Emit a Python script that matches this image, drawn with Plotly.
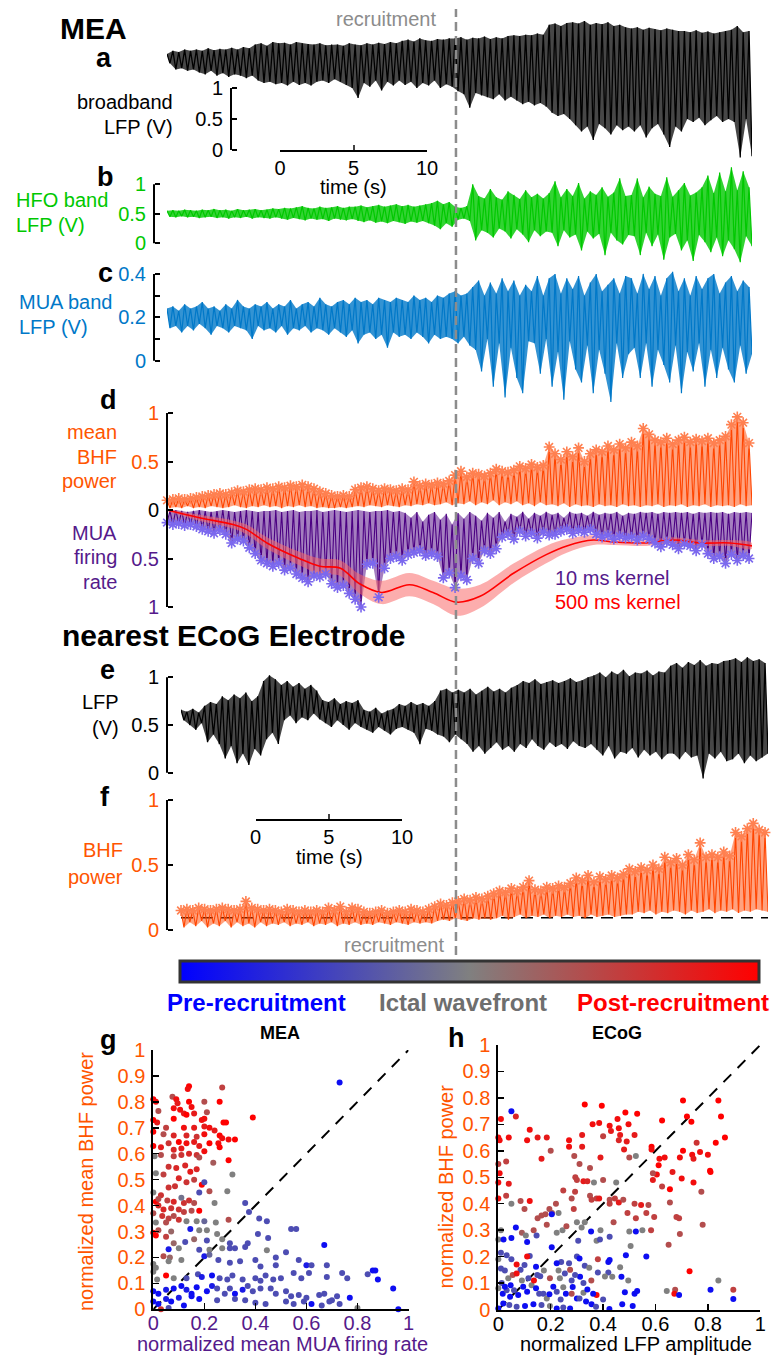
import numpy as np
import plotly.graph_objects as go

W, H = 772, 1355
FONT = "Liberation Sans, Arial, Helvetica, sans-serif"

ORANGE_TXT = "#FF5500"
ORANGE_LINE = "#FF4500"
CORAL = "#FF8050"
PURPLE_TXT = "#551A8B"
PURPLE_LINE = "#4B0082"
LAVENDER = "#7B68EE"
GREEN = "#00C800"
BLUE = "#0078C8"
REC_GRAY = "#8C8C8C"

# ======================= DATA =======================
mea_duration_s = 39.8
ecog_duration_s = 40.0
recruitment_time_s = 19.66
ecog_bhf_threshold = 0.095

# (a) broadband LFP, MEA  (successive peaks / troughs, V)
a_peaks = [1.55,1.60,1.58,1.62,1.60,
           1.62,1.60,1.64,1.61,1.63,1.62,1.65,1.62,1.66,1.64,
           1.70,1.72,1.68,1.74,1.72,1.73,1.70,1.74,1.72,1.71,1.70,1.72,1.69,1.70,
           1.70,1.68,1.72,1.70,1.69,1.72,1.70,1.73,1.71,1.74,1.72,
           1.76,1.78,1.75,1.80,1.77,1.76,1.79,1.78,1.80,
           1.80,1.82,1.78,1.81,1.80,1.83,1.79,1.82,1.80,1.84,
           1.85,1.84,1.86,1.85,1.88,1.86,
           2.02,2.04,2.00,2.05,
           2.06,2.04,2.08,2.02,2.05,2.03,2.06,2.00,2.02,1.98,
           1.96,1.98,1.94,1.97,1.95,1.93,1.96,1.94,1.92,
           1.92,1.90,1.93,1.89,1.91,1.88,1.90,1.92,
           1.94,2.00,1.90,1.92]
a_troughs = [1.40,1.30,1.32,1.28,1.30,
             1.25,1.22,1.28,1.20,1.24,1.18,1.22,1.20,1.16,1.20,
             1.12,1.08,1.10,1.06,1.08,1.04,1.10,1.05,1.08,1.04,1.10,1.12,1.08,1.14,
             1.10,1.05,1.00,0.84,1.08,1.02,1.12,0.96,1.10,1.04,1.12,
             1.05,1.10,1.00,1.08,1.04,1.12,1.00,1.06,1.02,
             0.95,0.90,0.68,0.92,0.88,0.85,0.82,0.90,0.80,0.86,
             0.80,0.74,0.78,0.72,0.76,0.70,
             0.60,0.55,0.58,0.50,
             0.40,0.30,0.38,0.16,0.42,0.35,0.25,0.40,0.32,0.38,
             0.30,0.40,0.20,0.35,0.42,0.25,0.05,0.38,0.30,
             0.50,0.45,0.52,0.40,0.48,0.55,0.45,0.50,
             0.45,-0.12,0.50,-0.10]

# (b) HFO band LFP
b_peaks = [0.55,0.56,0.55,0.57,0.56,0.55,0.57,0.56,0.58,0.56,0.57,0.55,0.58,0.56,0.57,0.58,0.56,0.57,0.59,
           0.58,0.60,0.59,0.61,0.63,0.60,0.59,0.62,0.60,0.61,0.63,0.60,0.62,
           0.62,0.64,0.61,0.63,0.65,0.62,0.64,0.66,0.63,0.65,0.62,0.64,0.66,
           0.68,0.72,0.66,0.70,
           0.62,0.60,0.63,
           1.00,0.80,0.76,0.92,0.78,0.74,0.88,0.82,0.75,0.90,0.78,0.84,0.76,
           0.85,1.05,0.78,0.92,0.80,1.02,0.76,0.88,0.82,0.95,0.79,0.86,1.10,0.80,
           0.82,1.10,0.78,0.96,0.84,0.80,1.12,0.79,0.90,1.02,0.81,0.86,0.95,
           1.15,0.85,1.20,0.88,1.29,0.90,1.22,0.95]
b_troughs = [0.45,0.44,0.46,0.44,0.45,0.43,0.44,0.45,0.43,0.44,0.42,0.44,0.43,0.45,0.42,0.44,0.43,0.42,0.44,
             0.42,0.40,0.43,0.41,0.39,0.42,0.40,0.41,0.38,0.42,0.40,0.39,0.41,
             0.38,0.36,0.39,0.35,0.37,0.34,0.38,0.36,0.33,0.37,0.35,0.38,0.34,
             0.30,0.24,0.34,0.28,
             0.40,0.42,0.38,
             0.05,0.22,0.18,0.10,0.25,0.20,0.08,0.24,0.15,0.02,0.22,0.12,0.20,
             0.18,-0.05,0.22,0.10,0.15,-0.12,0.20,0.08,0.16,-0.20,0.18,0.05,-0.02,0.14,
             0.12,-0.20,0.18,-0.05,0.15,-0.28,0.10,0.16,-0.12,0.05,-0.30,0.14,0.02,
             -0.15,0.10,-0.22,0.05,-0.10,-0.32,0.12,-0.05]

# (c) MUA band LFP
c_peaks = [0.24,0.25,0.23,0.26,0.24,0.25,0.27,0.24,0.25,0.23,0.26,0.24,0.28,0.25,0.24,0.26,0.25,0.27,0.24,0.26,
           0.25,0.28,0.24,0.26,0.27,0.25,0.29,0.26,0.25,
           0.27,0.28,0.26,0.29,0.27,0.28,0.26,0.29,0.28,0.27,0.29,0.28,0.27,0.30,0.28,0.29,0.27,0.30,0.29,
           0.31,0.32,0.30,0.31,
           0.34,0.37,0.30,0.36,0.31,0.38,0.32,0.37,0.30,0.35,
           0.32,0.39,0.30,0.38,0.40,0.31,0.38,0.33,0.39,0.30,0.36,0.40,0.32,0.35,0.38,0.31,0.39,
           0.38,0.31,0.40,0.33,0.39,0.30,0.38,0.41,0.32,0.38,0.30,0.39,0.33,0.38,0.40,0.31,0.36,0.39,0.32,0.37,0.34]
c_troughs = [0.15,0.16,0.13,0.16,0.14,0.17,0.15,0.12,0.16,0.15,0.13,0.16,0.15,0.14,0.10,0.16,0.14,0.15,0.13,0.16,
             0.12,0.15,0.14,0.16,0.13,0.15,0.14,0.12,0.15,
             0.13,0.11,0.14,0.08,0.12,0.13,0.10,0.12,0.06,0.13,0.11,0.12,0.10,0.13,0.11,0.08,0.12,0.10,0.11,
             0.10,0.08,0.11,0.07,
             0.05,-0.05,0.10,-0.12,0.08,-0.17,0.06,-0.08,-0.15,0.09,
             0.08,-0.06,0.10,-0.12,0.04,-0.18,0.09,-0.04,-0.10,0.07,-0.15,0.05,-0.06,-0.19,0.08,-0.08,0.03,
             0.06,-0.08,0.08,-0.12,0.05,-0.02,-0.10,0.07,-0.15,0.04,-0.05,0.08,-0.12,0.05,-0.08,0.06,-0.04,-0.10,0.07,-0.06,0.03]

# (d) mean BHF power (10 ms kernel) peaks / troughs
d_bhf_peaks = [0.10,0.11,0.12,0.11,0.12,0.13,
               0.14,0.15,0.16,0.17,0.16,0.18,
               0.20,0.19,0.21,0.22,0.21,0.23,0.22,0.24,0.23,0.25,0.24,
               0.26,0.24,0.22,0.19,0.17,
               0.15,0.14,0.15,0.14,
               0.21,0.23,0.24,0.22,
               0.20,0.22,0.21,0.20,0.22,0.21,
               0.29,0.25,0.27,0.26,0.28,0.27,0.30,
               0.36,0.40,0.34,0.38,0.37,0.35,
               0.38,0.42,0.40,0.39,0.41,
               0.45,0.43,0.47,0.44,0.46,
               0.65,0.58,
               0.52,0.60,0.55,0.64,0.50,0.58,0.62,
               0.60,0.66,0.62,0.68,0.64,0.70,0.66,
               0.84,0.78,0.72,
               0.70,0.74,0.68,0.72,0.75,0.70,0.73,0.71,0.74,0.69,0.72,0.76,
               0.88,0.96,0.90,0.69]
d_bhf_troughs = [0.02,0.03,0.02,0.04,0.02,0.03,0.02,0.04,0.03,0.02,0.03,0.05,0.03,0.02,0.04,0.03,0.05,0.03,0.04,0.02,
                 0.04,0.03,0.05,0.03,0.04,0.02,0.03,0.02,0.02,0.03,0.02,0.03,0.04,0.03,0.05,0.04,0.03,0.05,0.04,0.03,
                 0.05,0.04,0.06,0.05,0.07,0.05,0.06,0.08,0.05,0.07,0.06,0.09,0.05,0.08,0.06,0.10,0.05,0.08,0.06,0.09,
                 0.05,0.07,0.04,0.08,0.05,0.06,0.04,0.07,0.03,0.06,0.04,0.05,0.03,0.06,0.04,0.05,0.03,0.06,0.04,0.05,
                 0.03,0.05,0.04,0.06,0.03,0.05,0.04,0.06,0.03,0.05,0.04,0.06,0.03,0.05,0.04,0.05,0.03,0.06,0.04,0.05]
# (d) MUA firing rate (10 ms kernel) peaks / troughs
d_mua_peaks = [0.13,0.15,0.14,0.16,0.15,0.17,
               0.20,0.22,0.24,0.21,0.25,
               0.34,0.30,0.32,0.39,
               0.45,0.52,0.55,
               0.58,0.55,0.62,0.60,
               0.66,0.70,0.74,0.68,
               0.69,0.66,
               0.76,0.80,0.78,
               0.86,0.92,1.00,
               0.56,0.55,
               0.90,0.60,
               0.50,0.48,0.52,0.46,
               0.44,0.42,0.47,0.45,0.48,
               0.70,
               0.65,0.80,0.68,0.72,
               0.50,0.55,0.42,0.45,0.40,
               0.28,0.25,0.30,0.22,0.27,0.24,0.29,0.23,0.26,0.25,
               0.22,0.20,0.24,0.21,0.23,0.20,0.25,
               0.28,0.26,0.30,0.27,0.29,0.28,0.31,0.27,0.30,
               0.34,0.38,0.33,0.36,0.40,0.35,0.37,0.42,0.36,
               0.45,0.50,0.48,0.55,0.46,0.52,0.47,0.50]
d_mua_troughs = [0.01,0.00,0.01,0.02,0.01,0.00,0.01,0.02,0.01,0.00,0.01,0.02,0.01,0.00,0.01,0.02,0.01,0.01,0.00,0.02,
                 0.01,0.00,0.02,0.01,0.01,0.00,0.02,0.01,0.00,0.01,0.02,0.01,0.00,0.01,0.02,0.01,0.01,0.00,0.02,0.01,
                 0.03,0.08,0.02,0.12,0.05,0.02,0.10,0.04,0.15,0.03,0.09,0.02,0.06,0.11,0.03,0.08,0.02,0.12,0.04,0.07,
                 0.02,0.09,0.03,0.06,0.02,0.05,0.03,0.08,0.02,0.04,0.03,0.06,0.02,0.05,0.03,0.04,0.02,0.06,0.03,0.04,
                 0.02,0.03,0.02,0.04,0.02,0.03,0.02,0.03,0.02,0.04,0.02,0.03,0.02,0.03,0.02,0.04,0.02,0.03,0.02,0.03]
# (d) MUA firing rate, 500 ms kernel (mean and half-width of band)
kernel_t = [0, 2.2, 4.5, 5.4, 6.8, 9.0, 10.4, 11.8, 13.1, 14.6, 16.5, 18.1, 19.7, 21.3, 23.6, 25.8,
            27.2, 29.0, 30.4, 32.6, 34.4, 36.3, 38.3, 39.8]
kernel_rate = [0.0, 0.08, 0.15, 0.2, 0.34, 0.5, 0.58, 0.6, 0.76, 0.85, 0.77, 0.85, 0.95, 0.89, 0.65, 0.46,
               0.37, 0.31, 0.33, 0.34, 0.31, 0.34, 0.34, 0.37]
kernel_sem = [0.01, 0.03, 0.04, 0.05, 0.06, 0.07, 0.08, 0.08, 0.1, 0.12, 0.12, 0.12, 0.14, 0.12, 0.1, 0.09,
              0.07, 0.05, 0.03, 0.03, 0.03, 0.03, 0.03, 0.03]

# (e) ECoG LFP
e_peaks = [0.66,0.64,0.67,0.63,
           0.70,0.74,0.72,
           0.80,0.76,0.82,0.78,0.84,0.75,0.80,
           0.96,1.02,0.98,
           0.92,0.96,0.90,0.94,0.88,0.92,0.86,
           0.76,0.74,0.78,0.72,0.75,0.73,0.76,
           0.66,0.64,0.68,0.62,0.65,0.67,
           0.72,0.70,0.74,0.71,0.73,0.70,0.75,
           0.86,0.88,0.84,0.87,
           0.84,0.88,0.82,0.86,0.90,0.85,0.88,0.84,0.89,
           0.92,0.96,0.94,0.98,0.93,0.95,0.97,0.94,0.96,0.99,0.95,0.97,1.00,
           1.02,1.05,1.00,1.06,1.03,1.08,1.01,1.05,1.04,1.07,1.02,1.06,1.05,
           1.12,1.15,1.10,1.16,1.13,1.18,1.12,1.15,1.14,1.17,
           1.18,1.20,1.16,1.21,1.17,1.19,1.15]
e_troughs = [0.55,0.50,0.45,0.52,
             0.32,0.40,0.30,
             0.15,0.28,0.10,0.20,0.08,0.25,0.18,
             0.35,0.42,0.30,
             0.55,0.60,0.52,0.58,0.55,0.62,0.56,
             0.52,0.48,0.55,0.50,0.45,0.52,0.48,
             0.45,0.42,0.48,0.44,0.40,0.46,
             0.48,0.45,0.42,0.30,0.46,0.44,0.40,
             0.38,0.32,0.40,0.35,
             0.30,0.22,0.28,0.20,0.26,0.32,0.24,0.28,0.22,
             0.30,0.26,0.35,0.28,0.24,0.32,0.27,0.30,0.25,0.33,0.28,0.26,0.30,
             0.24,0.18,0.28,0.15,0.22,0.20,0.26,0.16,0.24,0.18,0.22,0.14,0.20,
             0.20,0.14,0.22,0.16,0.18,-0.06,0.20,0.15,0.22,0.12,
             0.14,0.20,0.10,0.18,0.12,0.16,0.20]

# (f) ECoG BHF power
f_peaks = [0.15,0.16,0.15,0.17,0.16,0.15,0.16,0.17,0.16,0.15,
           0.16,0.22,0.17,
           0.16,0.15,0.16,0.15,0.14,0.16,0.15,0.14,0.15,0.14,0.15,0.14,
           0.17,0.15,0.18,0.14,0.17,0.16,
           0.14,0.13,0.14,0.15,0.13,0.14,0.15,0.14,0.16,0.15,0.14,0.16,
           0.18,0.20,0.19,0.21,
           0.22,0.24,0.23,0.25,0.24,0.26,
           0.28,0.30,0.29,0.32,0.30,0.33,0.38,0.31,0.30,0.33,
           0.32,0.34,0.33,
           0.36,0.40,0.38,0.42,0.37,0.41,0.39,0.42,0.40,0.43,
           0.47,0.45,0.48,0.46,0.50,0.47,0.56,
           0.52,0.55,0.50,0.58,0.54,0.67,0.56,
           0.58,0.56,0.60,0.57,
           0.75,0.72,0.78,0.82,0.77,0.75]
f_troughs = [0.02,0.06,0.03,0.07,0.02,0.05,0.03,0.07,0.02,0.06,0.03,0.05,0.02,0.06,0.03,0.05,0.04,0.06,0.03,0.05,
             0.04,0.06,0.03,0.05,0.04,0.06,0.03,0.05,0.04,0.06,0.04,0.05,0.04,0.06,0.05,0.04,0.06,0.05,0.04,0.06,0.05,0.06,0.05,
             0.07,0.08,0.07,0.09,0.08,0.07,0.09,0.08,0.09,0.08,
             0.09,0.11,0.08,0.10,0.12,0.09,0.11,0.10,0.12,0.09,0.11,0.10,0.12,0.10,0.11,0.09,0.12,0.10,0.11,0.12,0.10,0.11,0.12,
             0.12,0.14,0.13,0.15,0.12,0.14,0.13,0.15,0.14,0.12,0.15,0.13,0.14,0.16,0.13,0.15,0.14,0.16,0.13,0.15,0.14,0.16,0.15,0.14]

# (g) MEA scatter: MUA firing rate vs BHF power, colour = time relative to recruitment (0 pre, 0.5 wavefront, 1 post)
g_x = [0.14,0.135,0.27,0.0,0.01,0.075,0.09,0.095,0.14,0.2,
       0.26,0.08,0.105,0.12,0.13,0.15,0.16,0.21,0.39,0.19,
       0.2,0.02,0.015,0.0,0.08,0.2,0.275,0.285,0.05,0.12,
       0.16,0.22,0.24,0.0,0.04,0.08,0.13,0.17,0.2,0.26,
       0.27,0.32,0.295,0.255,0.22,0.1,0.13,0.16,0.06,0.0,
       0.03,0.08,0.11,0.18,0.26,0.2,0.14,0.17,0.11,0.08,
       0.005,0.03,0.18,0.235,0.295,0.06,0.09,0.125,0.145,0.17,
       0.01,0.04,0.31,0.1,0.13,0.16,0.19,0.2,0.085,0.06,
       0.18,0.22,0.29,0.0,0.03,0.01,0.02,0.055,0.08,0.12,
       0.14,0.16,0.11,0.36,0.18,0.24,0.02,0.04,0.07,0.1,
       0.12,0.15,0.375,0.0,0.035,0.06,0.08,0.1,0.01,0.05,
       0.13,0.17,0.2,0.245,0.295,0.415,0.445,0.54,0.56,0.0,
       0.01,0.02,0.05,0.07,0.145,0.18,0.21,0.25,0.3,0.37,
       0.36,0.41,0.45,0.08,0.125,0.16,0.21,0.27,0.18,0.22,
       0.06,0.1,0.27,0.3,0.32,0.445,0.48,0.52,0.67,0.04,
       0.065,0.11,0.2,0.22,0.255,0.3,0.34,0.4,0.42,0.48,
       0.57,0.6,0.62,0.68,0.0,0.01,0.05,0.06,0.0,0.015,
       0.08,0.13,0.175,0.19,0.23,0.26,0.29,0.31,0.35,0.37,
       0.4,0.42,0.44,0.47,0.5,0.55,0.58,0.61,0.68,0.74,
       0.76,0.84,0.86,0.87,0.88,0.94,0.73,0.0,0.02,0.05,
       0.08,0.11,0.13,0.15,0.17,0.21,0.23,0.25,0.28,0.3,
       0.32,0.35,0.39,0.42,0.46,0.48,0.52,0.54,0.57,0.6,
       0.65,0.67,0.7,0.72,0.77,0.0,0.02,0.05,0.07,0.1,
       0.12,0.15,0.18,0.25,0.32,0.36,0.4,0.44,0.52,0.55,
       0.59,0.62,0.66,0.69,0.73,0.8,0.96,0.03,0.06]
g_y = [0.86,0.85,0.855,0.81,0.80,0.82,0.81,0.795,0.80,0.80,
       0.80,0.775,0.77,0.755,0.75,0.78,0.755,0.76,0.74,0.73,
       0.735,0.765,0.72,0.73,0.735,0.705,0.72,0.72,0.70,0.70,
       0.70,0.70,0.69,0.685,0.675,0.67,0.67,0.665,0.675,0.67,
       0.66,0.655,0.655,0.64,0.64,0.645,0.64,0.645,0.64,0.63,
       0.625,0.615,0.62,0.63,0.625,0.61,0.60,0.595,0.595,0.59,
       0.59,0.595,0.585,0.565,0.575,0.55,0.545,0.555,0.53,0.54,
       0.525,0.52,0.52,0.505,0.49,0.50,0.48,0.49,0.475,0.47,
       0.45,0.455,0.455,0.45,0.44,0.415,0.425,0.42,0.415,0.41,
       0.42,0.41,0.43,0.41,0.38,0.41,0.40,0.385,0.39,0.385,
       0.375,0.38,0.375,0.37,0.36,0.35,0.36,0.345,0.335,0.335,
       0.34,0.34,0.34,0.335,0.345,0.35,0.34,0.31,0.31,0.295,
       0.285,0.305,0.28,0.30,0.31,0.305,0.305,0.29,0.255,0.255,
       0.24,0.29,0.275,0.255,0.26,0.27,0.265,0.27,0.23,0.23,
       0.232,0.235,0.235,0.235,0.235,0.228,0.2,0.22,0.248,0.205,
       0.20,0.19,0.205,0.21,0.19,0.18,0.185,0.19,0.165,0.17,
       0.19,0.17,0.17,0.17,0.175,0.16,0.13,0.185,0.145,0.115,
       0.12,0.12,0.135,0.125,0.13,0.12,0.115,0.13,0.115,0.09,
       0.12,0.11,0.13,0.115,0.12,0.14,0.12,0.14,0.125,0.14,
       0.12,0.135,0.15,0.15,0.115,0.08,0.875,0.07,0.06,0.075,
       0.08,0.09,0.075,0.06,0.085,0.07,0.09,0.08,0.06,0.08,
       0.06,0.075,0.07,0.08,0.08,0.06,0.07,0.05,0.055,0.045,
       0.055,0.06,0.035,0.05,0.045,0.03,0.02,0.04,0.03,0.045,
       0.015,0.05,0.04,0.035,0.04,0.035,0.025,0.02,0.03,0.02,
       0.03,0.02,0.015,0.03,0.02,0.005,0.0,0.0,0.005]
g_c = [1,0.95,0.75,1,0.95,0.7,0.95,0.9,1,0.7,
       1,0.95,0.95,0.9,1,0.95,0.9,0.7,1,0.95,
       0.95,0.7,0.9,1,1,0.9,1,1,0.75,0.95,
       0.9,0.95,0.9,1,0.7,0.85,0.85,0.8,0.95,1,
       0.95,1,0.95,0.95,1,1,0.95,0.9,0.8,1,
       0.9,0.85,0.9,0.9,1,0.95,0.85,0.8,0.8,0.75,
       0.5,0.7,0.7,0.65,1,0.8,0.85,0.85,0.9,0.85,
       0.5,0.75,0.5,0.85,0.8,0.75,1,0.3,0.8,0.8,
       0.3,0.7,0.5,0.5,0.8,1,0.7,0.75,0.85,0.8,
       0.8,0.7,0.45,0.3,1,0.5,0.85,0.85,0.8,0.8,
       0.75,0.7,0.3,0.7,0.8,0.75,0.7,0.8,0.5,0.7,
       0.5,0.5,0.4,0.5,0.7,0.3,0.3,0.3,0.3,1,
       1,0.7,0.75,0.6,0.1,0.5,0.5,0.5,0.3,0.3,
       0.3,0.3,0.3,0.6,0.3,0.6,0.3,0.5,0.3,0.5,
       0.1,0.5,0.5,0.3,0.3,0.5,0.3,0.3,0.05,0.7,
       0.6,0.5,0.1,0.4,0.3,0.3,0.3,0.3,0.3,0.3,
       0.3,0.1,0.3,0.3,0.5,0.5,1,0.5,0.5,0.5,
       0.5,0.3,0.3,0.1,0.05,0.3,0.3,0.3,0.3,0.3,
       0.3,0.3,0.3,0.3,0.3,0.3,0.3,0.3,0.3,0.3,
       0.3,0.3,0.05,0.05,0.05,0.05,0.05,0.05,0.05,0.1,
       0.05,0.05,0.1,0.05,0.05,0.05,0.1,0.3,0.3,0.3,
       0.05,0.1,0.3,0.3,0.3,0.3,0.3,0.3,0.3,0.3,
       0.3,0.3,0.3,0.3,0.05,0.05,0.05,0.1,0.05,0.1,
       0.05,0.05,0.05,0.3,0.3,0.3,0.3,0.3,0.3,0.3,
       0.3,0.05,0.3,0.3,0.3,0.5,0.05,0.8,0.3]

# (h) ECoG scatter: LFP amplitude vs BHF power
h_x = [0.01,0.0,0.005,0.04,0.067,0.12,0.11,0.15,0.185,0.2,
       0.165,0.27,0.27,0.33,0.395,0.32,0.36,0.385,0.4,0.425,
       0.43,0.455,0.46,0.465,0.46,0.485,0.497,0.53,0.49,0.52,
       0.32,0.29,0.39,0.48,0.5,0.525,0.585,0.585,0.625,0.615,
       0.612,0.605,0.59,0.625,0.655,0.665,0.705,0.72,0.737,0.70,
       0.705,0.693,0.74,0.745,0.757,0.77,0.8,0.808,0.81,0.745,
       0.775,0.83,0.84,0.85,0.865,0.78,0.73,0.0,0.005,0.0,
       0.03,0.04,0.03,0.0,0.05,0.085,0.1,0.12,0.01,0.0,
       0.09,0.105,0.135,0.15,0.165,0.18,0.185,0.195,0.205,0.22,
       0.23,0.223,0.245,0.248,0.26,0.28,0.288,0.293,0.294,0.3,
       0.31,0.325,0.34,0.35,0.35,0.356,0.365,0.375,0.385,0.4,
       0.3,0.318,0.305,0.33,0.375,0.39,0.425,0.425,0.425,0.44,
       0.445,0.45,0.46,0.477,0.493,0.5,0.505,0.52,0.525,0.545,
       0.55,0.565,0.573,0.583,0.595,0.59,0.635,0.65,0.655,0.68,
       0.69,0.693,0.643,0.675,0.672,0.69,0.81,0.84,0.897,0.897,
       0.375,0.38,0.355,0.52,0.53,0.05,0.067,0.05,0.02,0.11,
       0.146,0.204,0.204,0.354,0.525,0.565,0.487,0.388,0.42,0.425,
       0.38,0.42,0.407,0.435,0.465,0.47,0.496,0.483,0.473,0.513,
       0.424,0.356,0.362,0.325,0.325,0.312,0.293,0.274,0.27,0.3,
       0.31,0.33,0.347,0.24,0.223,0.23,0.197,0.174,0.16,0.144,
       0.12,0.11,0.1,0.085,0.07,0.05,0.032,0.01,0.0,0.01,
       0.025,0.038,0.055,0.07,0.09,0.095,0.11,0.127,0.144,0.156,
       0.172,0.185,0.195,0.21,0.223,0.238,0.248,0.258,0.28,0.284,
       0.3,0.274,0.248,0.223,0.197,0.165,0.134,0.102,0.07,0.042,
       0.019,0.0,0.017,0.032,0.045,0.06,0.076,0.013,0.025,0.0,
       0.047,0.115,0.136,0.149,0.235,0.254,0.28,0.34,0.4,0.373,0.335,0.31]
h_y = [0.72,0.65,0.64,0.65,0.73,0.68,0.64,0.65,0.65,0.6,
       0.57,0.64,0.615,0.775,0.77,0.66,0.70,0.705,0.655,0.695,
       0.675,0.72,0.685,0.66,0.64,0.745,0.70,0.74,0.635,0.66,
       0.615,0.58,0.575,0.605,0.575,0.58,0.615,0.605,0.715,0.57,
       0.545,0.51,0.49,0.465,0.455,0.52,0.79,0.73,0.71,0.495,
       0.60,0.575,0.585,0.57,0.63,0.595,0.585,0.525,0.52,0.48,
       0.445,0.63,0.79,0.73,0.65,0.32,0.145,0.55,0.515,0.48,
       0.56,0.475,0.43,0.42,0.40,0.41,0.38,0.41,0.30,0.265,
       0.29,0.28,0.30,0.345,0.355,0.36,0.32,0.38,0.365,0.40,
       0.365,0.29,0.30,0.45,0.315,0.42,0.38,0.445,0.50,0.49,
       0.55,0.485,0.485,0.535,0.43,0.415,0.48,0.42,0.42,0.49,
       0.33,0.31,0.26,0.33,0.26,0.30,0.275,0.415,0.40,0.33,
       0.42,0.48,0.405,0.415,0.365,0.295,0.24,0.40,0.345,0.395,
       0.30,0.365,0.395,0.30,0.35,0.515,0.575,0.245,0.405,0.35,
       0.345,0.285,0.07,0.075,0.06,0.055,0.075,0.11,0.075,0.04,
       0.055,0.19,0.11,0.06,0.07,0.75,0.31,0.27,0.265,0.255,
       0.28,0.36,0.235,0.295,0.295,0.20,0.205,0.265,0.18,0.187,
       0.14,0.14,0.125,0.124,0.16,0.124,0.11,0.065,0.02,0.013,
       0.002,0.02,0.06,0.063,0.1,0.124,0.13,0.15,0.175,0.2,
       0.193,0.165,0.158,0.18,0.175,0.147,0.118,0.147,0.126,0.162,
       0.202,0.2,0.168,0.15,0.17,0.19,0.205,0.215,0.19,0.155,
       0.147,0.118,0.13,0.136,0.11,0.086,0.067,0.092,0.08,0.06,
       0.06,0.042,0.058,0.086,0.067,0.038,0.084,0.06,0.06,0.085,
       0.042,0.004,0.008,0.004,0.013,0.017,0.02,0.013,0.01,0.017,
       0.023,0.004,0.06,0.073,0.048,0.073,0.055,0.1,0.086,0.08,
       0.092,0.118,0.11,0.13,0.118,0.136,0.11,0.076,0.038,0.01,0.03,0.042]
h_c = [0.95,0.95,0.95,0.95,0.85,0.95,0.95,0.9,0.9,0.7,
       0.9,0.95,0.95,1,1,0.9,0.95,0.95,0.75,0.95,
       0.9,0.95,0.95,0.9,0.85,1,0.95,1,0.9,0.9,
       0.9,0.7,0.9,0.9,0.7,0.5,1,0.95,1,0.95,
       1,0.95,0.9,0.75,1,0.9,1,1,1,0.95,
       1,0.95,0.95,0.9,0.8,0.95,0.95,1,1,0.95,
       0.7,1,1,1,1,0.7,1,0.75,0.95,0.95,
       0.75,0.9,0.75,0.95,0.5,0.7,0.7,0.95,0.5,0.5,
       0.65,0.5,0.7,0.7,0.7,0.7,0.7,0.7,0.65,0.7,
       0.5,0.5,0.5,0.75,0.7,0.7,0.75,0.75,0.75,0.75,
       0.7,0.9,0.85,0.7,0.7,0.75,0.5,0.75,0.9,0.7,
       0.5,0.5,0.3,0.5,0.5,0.5,0.3,0.7,0.75,0.7,
       0.75,0.5,0.9,0.7,0.75,0.5,0.5,0.75,0.75,0.9,
       0.5,0.75,0.7,0.75,0.75,0.7,0.95,0.7,0.7,0.75,
       0.75,0.7,0.5,0.7,0.95,0.05,0.05,0.5,0.75,0.05,
       0.95,0.75,0.7,0.05,0.05,0.05,0.05,0.05,0.05,0.05,
       0.3,0.05,0.05,0.05,0.05,0.05,0.05,0.3,0.05,0.05,
       0.3,0.3,0.5,0.5,0.5,0.05,0.5,0.05,0.05,0.05,
       0.05,0.05,0.05,0.5,0.3,0.05,0.3,0.7,0.3,0.3,
       0.05,0.3,0.5,0.3,0.05,0.5,0.7,0.5,0.3,0.05,
       0.3,0.95,0.3,0.3,0.95,0.3,0.3,0.3,0.5,0.3,
       0.3,0.5,0.7,0.95,0.5,0.05,0.05,0.5,0.05,0.3,
       0.3,0.5,0.05,0.05,0.3,0.3,0.5,0.05,0.7,0.05,
       0.05,0.05,0.3,0.05,0.5,0.3,0.05,0.05,0.3,0.3,
       0.05,0.05,0.05,0.3,0.05,0.3,0.05,0.3,0.05,0.5,
       0.05,0.3,0.95,0.3,0.5,0.3,0.3,0.05,0.3,0.3,0.05,0.3]

# ======================= HELPERS =======================
def px(v):
    return v / W


def py(v):
    return 1 - v / H


def zigzag(peaks, troughs, duration):
    n = min(len(peaks), len(troughs))
    dt = duration / (n - 0.5)
    tp = np.arange(n) * dt
    tt = tp + dt / 2
    p = np.asarray(peaks[:n], float)
    q = np.asarray(troughs[:n], float)
    x = np.empty(2 * n)
    y = np.empty(2 * n)
    x[0::2] = tp
    x[1::2] = tt
    y[0::2] = p
    y[1::2] = q
    bx = np.concatenate([tp, tt[::-1]])
    by = np.concatenate([p, q[::-1]])
    return x, y, tp, p, bx, by


def rgba(hexcol, a):
    h = hexcol.lstrip("#")
    return f"rgba({int(h[0:2], 16)},{int(h[2:4], 16)},{int(h[4:6], 16)},{a})"


def trace_yaxis(top, bot, zero, unit, pos, tickvals, ticktext, color):
    return dict(domain=[py(bot), py(top)], range=[(zero - bot) / unit, (zero - top) / unit],
                anchor="free", position=px(pos), showline=False, showgrid=False, zeroline=False,
                ticks="inside", ticklen=5, tickwidth=2, tickcolor="black",
                tickvals=tickvals, ticktext=ticktext, ticklabelstandoff=8,
                tickfont=dict(size=20, color=color, family=FONT))


def txt(s, x, y, size=20, color="black", xanchor="center", bold=False, angle=0):
    return dict(text=f"<b>{s}</b>" if bold else s, x=px(x), y=py(y), xref="paper", yref="paper",
                showarrow=False, xanchor=xanchor, yanchor="middle", textangle=angle,
                font=dict(size=size, color=color, family=FONT))


fig = go.Figure()
skip = dict(hoverinfo="skip", showlegend=False)


def dense(peaks, troughs, duration, color, xa, ya, fill_alpha, width=1.1, sign=1):
    x, y, tp, p, bx, by = zigzag(peaks, troughs, duration)
    fig.add_trace(go.Scatter(x=bx, y=sign * by, mode="lines", fill="toself", fillcolor=rgba(color, fill_alpha),
                             line=dict(width=0), xaxis=xa, yaxis=ya, **skip))
    fig.add_trace(go.Scatter(x=x, y=sign * y, mode="lines", line=dict(color=color, width=width),
                             xaxis=xa, yaxis=ya, **skip))
    return tp, p


# ---- (a) (b) (c) ----
dense(a_peaks, a_troughs, mea_duration_s, "#000000", "x", "y", 0.72, 1.3)
dense(b_peaks, b_troughs, mea_duration_s, GREEN, "x", "y2", 0.8, 1.2)
dense(c_peaks, c_troughs, mea_duration_s, BLUE, "x", "y3", 0.8, 1.2)

# ---- (d) ----
tm, pm = dense(d_mua_peaks, d_mua_troughs, mea_duration_s, PURPLE_LINE, "x", "y4", 0.5, 1.1, sign=-1)
to, po = dense(d_bhf_peaks, d_bhf_troughs, mea_duration_s, ORANGE_LINE, "x", "y4", 0.5, 1.1)
kt = np.asarray(kernel_t, float)
kr = np.asarray(kernel_rate, float)
ks = np.asarray(kernel_sem, float)
fig.add_trace(go.Scatter(x=np.concatenate([kt, kt[::-1]]), y=np.concatenate([-(kr + ks), -(kr - ks)[::-1]]),
                         fill="toself", fillcolor="rgba(250,105,105,0.55)", line=dict(width=0, shape="spline"),
                         mode="lines", xaxis="x", yaxis="y4", **skip))
fig.add_trace(go.Scatter(x=kt, y=-kr, mode="lines", line=dict(color="#FF0000", width=1.6, shape="spline"),
                         xaxis="x", yaxis="y4", **skip))
fig.add_trace(go.Scatter(x=tm, y=-pm, mode="markers", cliponaxis=False,
                         marker=dict(symbol="asterisk-open", size=9, color=LAVENDER,
                                     line=dict(color=LAVENDER, width=1.6)),
                         xaxis="x", yaxis="y4", **skip))
fig.add_trace(go.Scatter(x=to, y=po, mode="markers", cliponaxis=False,
                         marker=dict(symbol="asterisk-open", size=9, color=CORAL,
                                     line=dict(color=CORAL, width=1.6)),
                         xaxis="x", yaxis="y4", **skip))

# ---- (e) ----
dense(e_peaks, e_troughs, ecog_duration_s, "#000000", "x2", "y5", 0.72, 1.3)

# ---- (f) ----
fig.add_trace(go.Scatter(x=[0, ecog_duration_s], y=[ecog_bhf_threshold, ecog_bhf_threshold], mode="lines",
                         line=dict(color="black", width=1.5, dash="12px,8px"), xaxis="x2", yaxis="y6", **skip))
tf, pf = dense(f_peaks, f_troughs, ecog_duration_s, ORANGE_LINE, "x2", "y6", 0.5, 1.1)
fig.add_trace(go.Scatter(x=tf, y=pf, mode="markers", cliponaxis=False,
                         marker=dict(symbol="asterisk-open", size=9, color=CORAL,
                                     line=dict(color=CORAL, width=1.6)),
                         xaxis="x2", yaxis="y6", **skip))

# ---- scale-bar axes (invisible carrier traces) ----
fig.add_trace(go.Scatter(x=[0, 10], y=[0, 0], mode="markers", marker=dict(opacity=0), xaxis="x3", yaxis="y", **skip))
fig.add_trace(go.Scatter(x=[0, 10], y=[0, 0], mode="markers", marker=dict(opacity=0), xaxis="x4", yaxis="y6", **skip))

# ---- (g) / (h) scatter ----
CS = [[0, "rgb(0,0,255)"], [0.5, "rgb(128,128,128)"], [1, "rgb(255,0,0)"]]
for xs, ys in (("x5", "y7"), ("x6", "y8")):
    fig.add_trace(go.Scatter(x=[0, 1], y=[0, 1], mode="lines", line=dict(color="black", width=2, dash="11px,9px"),
                             xaxis=xs, yaxis=ys, **skip))
ng = min(len(g_x), len(g_y), len(g_c))
fig.add_trace(go.Scatter(
    x=g_x[:ng], y=g_y[:ng], mode="markers", cliponaxis=False, xaxis="x5", yaxis="y7",
    marker=dict(size=6, color=g_c[:ng], colorscale=CS, cmin=0, cmax=1, line=dict(width=0), showscale=True,
                colorbar=dict(orientation="h", x=px(469.5), xanchor="center", y=py(973), yanchor="middle",
                              len=(759 - 180) / W, lenmode="fraction", thickness=21, thicknessmode="pixels",
                              outlinewidth=3, outlinecolor="#333333", showticklabels=False, ticks="",
                              xpad=0, ypad=0)),
    **skip))
nh = min(len(h_x), len(h_y), len(h_c))
fig.add_trace(go.Scatter(
    x=h_x[:nh], y=h_y[:nh], mode="markers", cliponaxis=False, xaxis="x6", yaxis="y8",
    marker=dict(size=6, color=h_c[:nh], colorscale=CS, cmin=0, cmax=1, line=dict(width=0), showscale=False),
    **skip))

# ======================= LAYOUT =======================
span = lambda c, s: f"<span style='color:{c}'>{s}</span>"
tick10 = [round(0.1 * i, 1) for i in range(11)]
tick10_txt = ["0"] + [f"{v:g}" for v in tick10[1:-1]] + ["1"]
tick5 = [0, 0.2, 0.4, 0.6, 0.8, 1]
tick5_txt = ["0", "0.2", "0.4", "0.6", "0.8", "1"]

sc_common = dict(showgrid=False, zeroline=False, showline=True, linewidth=2, linecolor="black",
                 ticks="inside", ticklen=6, tickwidth=1.5, tickcolor="black", range=[0, 1])

layout = dict(
    width=W, height=H, margin=dict(l=0, r=0, t=0, b=0, pad=0, autoexpand=False),
    paper_bgcolor="white", plot_bgcolor="rgba(0,0,0,0)",
    showlegend=False, hovermode=False, font=dict(family=FONT, size=20, color="black"),
    xaxis=dict(domain=[px(167), px(752)], range=[0, mea_duration_s], visible=False, anchor="y"),
    xaxis2=dict(domain=[px(181), px(768)], range=[0, ecog_duration_s], visible=False, anchor="y5"),
    xaxis3=dict(domain=[px(280), px(427)], range=[0, 10], anchor="free", position=py(150.7),
                showline=True, linewidth=2, linecolor="black", ticks="inside", ticklen=5, tickwidth=2,
                tickvals=[0, 5, 10], ticktext=["0", "5", "10"], showgrid=False, zeroline=False,
                ticklabelstandoff=-1, tickfont=dict(size=20, color="black")),
    xaxis4=dict(domain=[px(255.5), px(402)], range=[0, 10], anchor="free", position=py(820),
                showline=True, linewidth=2, linecolor="black", ticks="inside", ticklen=5, tickwidth=2,
                tickvals=[0, 5, 10], ticktext=["0", "5", "10"], showgrid=False, zeroline=False,
                ticklabelstandoff=-1, tickfont=dict(size=20, color="black")),
    yaxis=trace_yaxis(12, 165, 150, 62, 231, [0, 0.5, 1], ["0", "0.5", "1"], "black"),
    yaxis2=trace_yaxis(160, 270, 243.3, 59, 154, [0, 0.5, 1], ["0", "0.5", "1"], GREEN),
    yaxis3=trace_yaxis(265, 410, 360.7, 217, 154, [0, 0.1, 0.2, 0.3, 0.4], ["0", "", "0.2", "", "0.4"], BLUE),
    yaxis4=trace_yaxis(400, 625, 510, 97, 167, [-1, -0.5, 0, 0.5, 1],
                       [span(PURPLE_TXT, "1"), span(PURPLE_TXT, "0.5"), "0",
                        span(ORANGE_TXT, "0.5"), span(ORANGE_TXT, "1")], "black"),
    yaxis5=trace_yaxis(645, 790, 772.7, 95.4, 167, [0, 0.5, 1], ["0", "0.5", "1"], "black"),
    yaxis6=trace_yaxis(790, 940, 930, 130, 167, [0, 0.5, 1], ["0", "0.5", "1"], ORANGE_TXT),
    xaxis5=dict(domain=[px(153.3), px(408.5)], anchor="y7", tickvals=tick5, ticktext=tick5_txt,
                ticklabelstandoff=-5, tickfont=dict(size=20, color=PURPLE_TXT), **sc_common),
    yaxis7=dict(domain=[py(1309.3), py(1050)], anchor="x5", tickvals=tick10, ticktext=tick10_txt,
                ticklabelstandoff=2, tickfont=dict(size=20, color=ORANGE_TXT), **sc_common),
    xaxis6=dict(domain=[px(498.3), px(760.3)], anchor="y8", tickvals=tick5, ticktext=tick5_txt,
                ticklabelstandoff=-5, tickfont=dict(size=20, color="black"), **sc_common),
    yaxis8=dict(domain=[py(1309.5), py(1045)], anchor="x6", tickvals=tick10, ticktext=tick10_txt,
                ticklabelstandoff=2, tickfont=dict(size=20, color=ORANGE_TXT), **sc_common),
)
fig.update_layout(**layout)

# ---- spines (scale bars) ----
shapes = []
for yref, xpos, lo, hi in (("y", 231, 0, 1), ("y2", 154, 0, 1), ("y3", 154, 0, 0.4), ("y4", 167, -1, 1),
                           ("y5", 167, 0, 1), ("y6", 167, 0, 1)):
    shapes.append(dict(type="line", xref="paper", yref=yref, x0=px(xpos), x1=px(xpos), y0=lo, y1=hi,
                       line=dict(color="black", width=2)))
# recruitment marker
shapes.append(dict(type="line", xref="x", yref="paper", x0=recruitment_time_s, x1=recruitment_time_s,
                   y0=py(955), y1=py(9), line=dict(color=REC_GRAY, width=2.5, dash="9px,5px"), layer="above"))
fig.update_layout(shapes=shapes)

annotations = [
    txt("MEA", 93, 28, 30, bold=True),
    txt("a", 104, 58, 27, bold=True),
    txt("broadband", 175, 102, xanchor="right"),
    txt("LFP (V)", 175, 127, xanchor="right"),
    txt("b", 105, 177, 27, bold=True),
    txt("HFO band", 14, 200, color=GREEN, xanchor="left"),
    txt("LFP (V)", 14, 225, color=GREEN, xanchor="left"),
    txt("c", 105, 273, 27, bold=True),
    txt("MUA band", 17, 302, color=BLUE, xanchor="left"),
    txt("LFP (V)", 17, 327, color=BLUE, xanchor="left"),
    txt("d", 108, 400, 27, bold=True),
    txt("mean", 119, 432, color=ORANGE_TXT, xanchor="right"),
    txt("BHF", 119, 457, color=ORANGE_TXT, xanchor="right"),
    txt("power", 119, 481, color=ORANGE_TXT, xanchor="right"),
    txt("MUA", 119, 533, color=PURPLE_TXT, xanchor="right"),
    txt("firing", 119, 557, color=PURPLE_TXT, xanchor="right"),
    txt("rate", 119, 582, color=PURPLE_TXT, xanchor="right"),
    txt("10 ms kernel", 553, 578, color=PURPLE_TXT, xanchor="left"),
    txt("500 ms kernel", 553, 602, color="#FF0000", xanchor="left"),
    txt("nearest ECoG Electrode", 60, 635, 30, bold=True, xanchor="left"),
    txt("e", 107, 670, 27, bold=True),
    txt("LFP", 121, 702, xanchor="right"),
    txt("(V)", 121, 728, xanchor="right"),
    txt("f", 105, 797, 27, bold=True),
    txt("BHF", 125, 850, color=ORANGE_TXT, xanchor="right"),
    txt("power", 125, 877, color=ORANGE_TXT, xanchor="right"),
    txt("time (s)", 353.5, 187),
    txt("time (s)", 329, 857),
    txt("recruitment", 438, 19, color=REC_GRAY, xanchor="right"),
    txt("recruitment", 446, 945, color=REC_GRAY, xanchor="right"),
    txt("Pre-recruitment", 256, 1002, 24, color="#0000FF", bold=True),
    txt("Ictal wavefront", 462.5, 1002, 24, color="#6E6E6E", bold=True),
    txt("Post-recruitment", 673, 1002, 24, color="#FF0000", bold=True),
    txt("MEA", 280, 1033, 18, bold=True),
    txt("ECoG", 617, 1033, 18, bold=True),
    txt("g", 108, 1040, 27, bold=True),
    txt("h", 456.5, 1038, 27, bold=True),
    txt("normalized mean BHF power", 86, 1182, color=ORANGE_TXT, angle=-90),
    txt("normalized mean MUA firing rate", 282, 1344, color=PURPLE_TXT),
    txt("normalized BHF power", 445.5, 1187, color=ORANGE_TXT, angle=-90),
    txt("normalized LFP amplitude", 636, 1344),
]
fig.update_layout(annotations=annotations)

fig.write_html("out.html", config={"displayModeBar": False, "staticPlot": True},
               post_script="document.body.style.margin='0';document.body.style.overflow='hidden';")
